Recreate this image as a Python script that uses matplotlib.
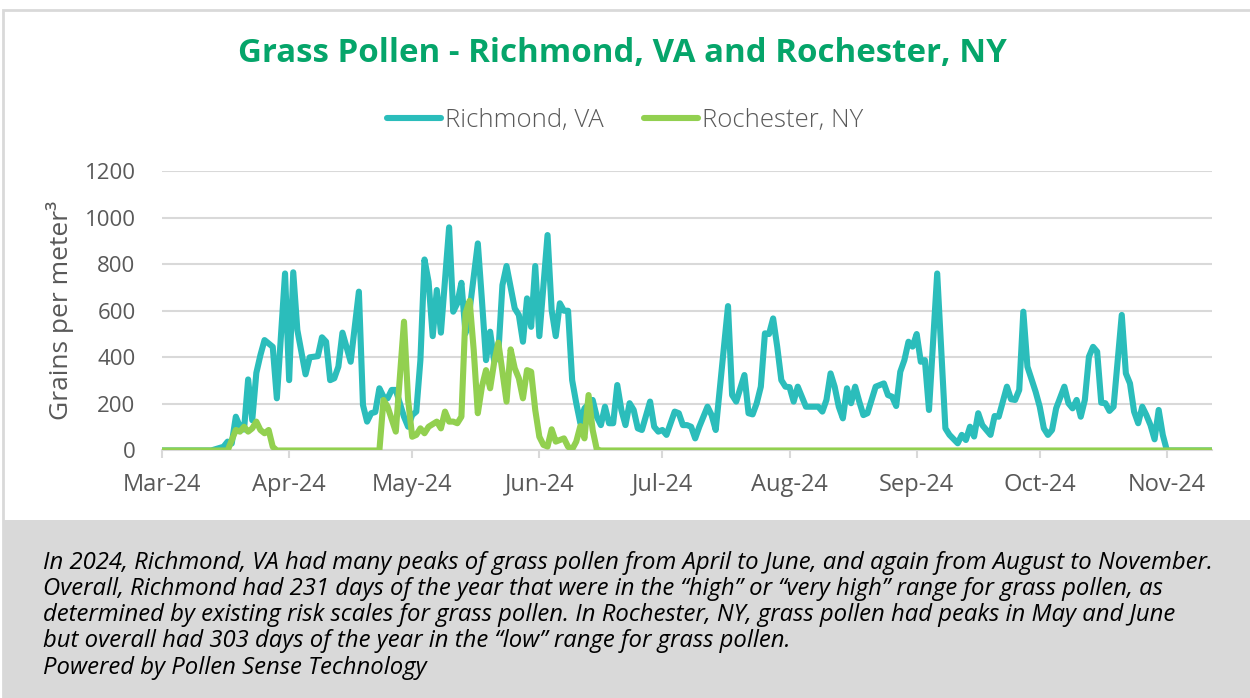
"""Grass pollen counts, Richmond VA vs Rochester NY (2024 season)."""

import pandas as pd
import matplotlib.pyplot as plt
import matplotlib.dates as mdates
from matplotlib.patches import Rectangle

# day offsets are counted from 1 March 2024
season_start = pd.Timestamp('2024-03-01')
season_end = pd.Timestamp('2024-11-12')

richmond_days = [0, 12, 15, 16, 17, 18, 19, 20, 21, 22, 23, 24, 25, 27, 28, 30, 31, 32, 33, 35,
                 36, 38, 39, 40, 41, 42, 43, 44, 46, 48, 49, 50, 51, 52, 53, 54, 55, 56, 57, 59,
                 60, 61, 62, 63, 64, 65, 66, 67, 68, 70, 71, 72, 73, 74, 75, 77, 78, 79, 80, 81,
                 82, 83, 84, 86, 87, 88, 89, 90, 91, 92, 94, 95, 96, 97, 98, 99, 100, 101, 102, 103,
                 105, 106, 107, 108, 109, 110, 111, 112, 113, 114, 115, 116, 117, 119, 120, 121, 122, 123, 125, 126,
                 127, 128, 129, 130, 131, 133, 134, 135, 138, 139, 140, 142, 143, 144, 145, 146, 147, 148, 149, 150,
                 151, 152, 153, 154, 155, 157, 159, 160, 161, 162, 163, 164, 165, 166, 167, 168, 169, 170, 171, 172,
                 174, 175, 176, 177, 178, 179, 180, 181, 182, 183, 184, 185, 186, 187, 189, 191, 192, 194, 195, 196,
                 197, 198, 199, 200, 202, 203, 204, 206, 207, 208, 209, 210, 211, 213, 214, 215, 216, 217, 218, 220,
                 221, 222, 223, 224, 225, 226, 227, 228, 229, 230, 231, 232, 234, 235, 236, 237, 238, 239, 240, 241,
                 242, 243, 244, 245, 256]
richmond_vals = [0, 0, 16, 38, 30, 145, 102, 90, 305, 130, 333, 410, 474, 445, 224, 760, 302, 765, 517, 327,
                 400, 405, 486, 467, 302, 310, 360, 506, 381, 682, 195, 124, 160, 165, 267, 231, 224, 260, 260, 145,
                 102, 152, 167, 388, 820, 724, 491, 689, 506, 958, 596, 632, 720, 503, 603, 889, 646, 388, 510, 381,
                 417, 710, 792, 610, 582, 467, 653, 531, 792, 491, 925, 603, 491, 632, 600, 600, 302, 203, 117, 181,
                 217, 145, 109, 188, 117, 117, 281, 174, 109, 203, 174, 95, 88, 210, 102, 81, 88, 67, 167, 160,
                 109, 109, 102, 52, 102, 188, 152, 88, 620, 238, 210, 324, 160, 155, 203, 274, 503, 500, 567, 445,
                 302, 274, 272, 210, 274, 188, 188, 188, 167, 217, 331, 274, 188, 138, 267, 203, 274, 210, 152, 160,
                 274, 281, 288, 238, 231, 191, 338, 388, 467, 446, 500, 381, 388, 174, 760, 95, 67, 31, 67, 45,
                 102, 60, 160, 109, 67, 148, 145, 274, 220, 217, 260, 596, 360, 252, 188, 95, 67, 88, 181, 274,
                 203, 181, 217, 145, 217, 403, 445, 424, 205, 203, 170, 188, 582, 331, 288, 167, 117, 188, 152, 109,
                 48, 174, 67, 0, 0]

rochester_days = [0, 16, 18, 19, 20, 21, 22, 23, 24, 25, 26, 27, 28, 53, 54, 55, 57, 59, 60, 61,
                  62, 63, 64, 65, 67, 68, 69, 70, 71, 72, 73, 74, 75, 76, 77, 78, 79, 80, 81, 82,
                  83, 84, 85, 86, 87, 88, 89, 90, 91, 92, 93, 94, 95, 96, 97, 98, 99, 100, 101, 102,
                  103, 104, 105, 106, 107, 256]
rochester_vals = [0, 0, 88, 81, 102, 81, 95, 124, 88, 74, 88, 16, 0, 0, 217, 188, 81, 553, 217, 59,
                  67, 95, 74, 102, 124, 95, 167, 124, 124, 117, 145, 589, 643, 431, 160, 274, 345, 267, 380, 463,
                  338, 210, 434, 353, 310, 224, 345, 338, 174, 59, 24, 17, 91, 38, 45, 52, 16, 5, 38, 105,
                  52, 238, 88, 5, 0, 0]

caption_lines = [
    "In 2024, Richmond, VA had many peaks of grass pollen from April to June, and again from August to November.",
    "Overall, Richmond had 231 days of the year that were in the \u201chigh\u201d or \u201cvery high\u201d range for grass pollen, as",
    "determined by existing risk scales for grass pollen. In Rochester, NY, grass pollen had peaks in May and June",
    "but overall had 303 days of the year in the \u201clow\u201d range for grass pollen.",
    "Powered by Pollen Sense Technology",
]

plt.rcParams['font.family'] = ['Open Sans', 'DejaVu Sans']

richmond_dates = season_start + pd.to_timedelta(richmond_days, unit='D')
rochester_dates = season_start + pd.to_timedelta(rochester_days, unit='D')

fig = plt.figure(figsize=(12.5, 6.98), dpi=100)

# outer frame and grey caption band
fig.patches.append(Rectangle((3 / 1250, 0), 1.0, 1 - 10 / 698, transform=fig.transFigure,
                             facecolor='white', edgecolor='#d9d9d9', linewidth=2, zorder=-3))
fig.patches.append(Rectangle((3 / 1250, 0), 1.0, 1 - 520 / 698, transform=fig.transFigure,
                             facecolor='#d9d9d9', edgecolor='none', zorder=-2))

ax = fig.add_axes([0.1296, 0.3546, 0.84, 0.4004])
ax.set_facecolor('none')

ax.plot(richmond_dates, richmond_vals, color='#2bbdbb', linewidth=4.4, label='Richmond, VA',
        solid_capstyle='round', solid_joinstyle='round', zorder=3)
ax.plot(rochester_dates, rochester_vals, color='#92d050', linewidth=4.4, label='Rochester, NY',
        solid_capstyle='round', solid_joinstyle='round', zorder=4)

ax.set_ylim(0, 1200)
ax.set_yticks(range(0, 1201, 200))
ax.set_xlim(season_start, season_end)
ax.xaxis.set_major_locator(mdates.MonthLocator())
ax.xaxis.set_major_formatter(mdates.DateFormatter('%b-%y'))

ax.grid(axis='y', color='#d9d9d9', linewidth=1.5)
ax.set_axisbelow(True)
for side in ['top', 'right', 'left']:
    ax.spines[side].set_visible(False)
ax.spines['bottom'].set_color('#d9d9d9')
ax.spines['bottom'].set_linewidth(1.5)
ax.tick_params(axis='y', length=0, labelsize=16, labelcolor='#595959', pad=19)
ax.tick_params(axis='x', length=6, width=1.5, color='#d9d9d9', labelsize=17,
               labelcolor='#595959', pad=10)

ax.set_ylabel('Grains per meter\u00b3', fontsize=19, color='#595959', labelpad=8)

fig.text(0.4976, 1 - 54 / 698, 'Grass Pollen - Richmond, VA and Rochester, NY', ha='center',
         va='center', fontsize=23.8, fontweight='bold', color='#05a56a')

fig.legend(loc='center', bbox_to_anchor=(0.5, 1 - 120 / 698), ncol=2, frameon=False,
           prop={'size': 18.5, 'weight': 'light'}, labelcolor='#595959', handlelength=2.1,
           handletextpad=0.15, columnspacing=1.6)

caption_y = [563, 589, 615, 641, 668]
for line, ypix in zip(caption_lines, caption_y):
    fig.text(43 / 1250, 1 - ypix / 698, line, ha='left', va='center', fontsize=17.2,
             style='italic', color='black')

plt.savefig('out.png', dpi=100)
